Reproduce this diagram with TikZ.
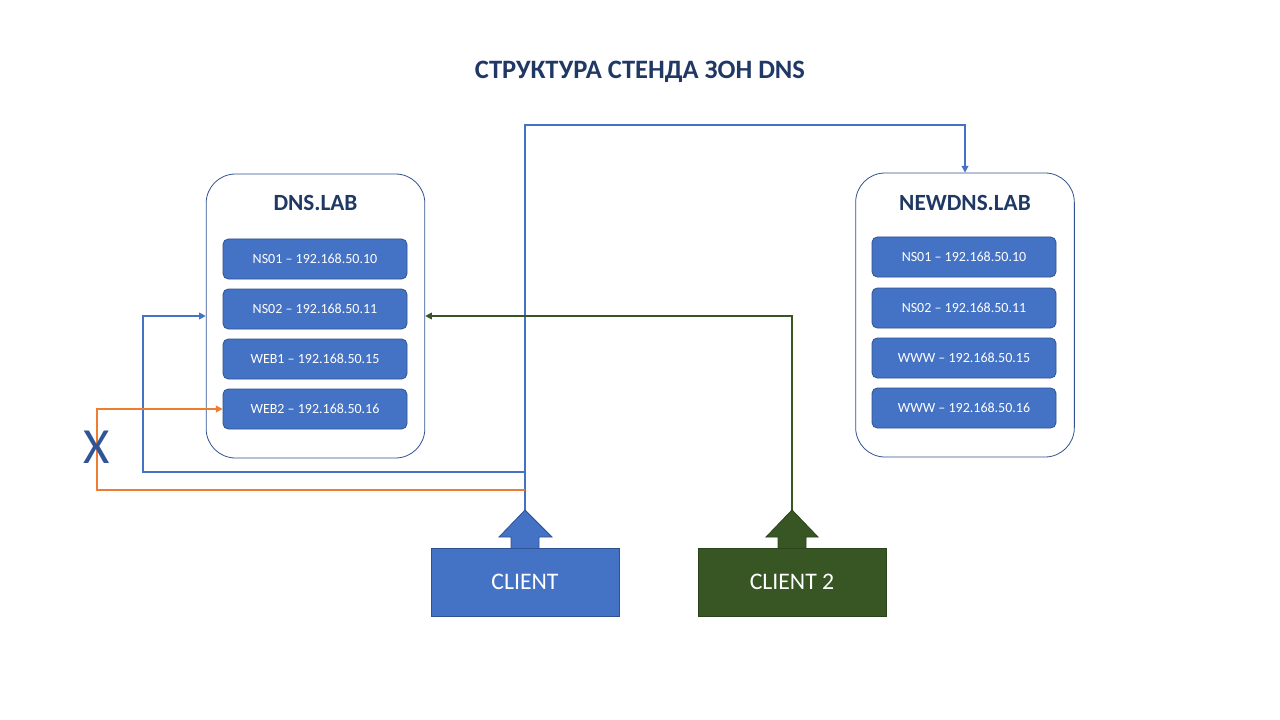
\documentclass[tikz,border=0pt]{standalone}
\usepackage{fontspec}
\setmainfont{Carlito}
\usetikzlibrary{arrows.meta,positioning}
\definecolor{navy}{HTML}{1F3864}
\definecolor{recfill}{HTML}{4472C4}
\definecolor{recline}{HTML}{2F528F}
\definecolor{grfill}{HTML}{375623}
\definecolor{grline}{HTML}{2A431B}
\definecolor{orline}{HTML}{ED7D31}
\definecolor{xblue}{HTML}{2F5597}

\begin{document}
\begin{tikzpicture}[x=0.75pt,y=-0.75pt,
  zone/.style={draw=recline, fill=white, line width=0.6pt, rounded corners=22pt,
    minimum width=164pt, minimum height=213pt},
  zonetitle/.style={text=navy, font=\fontsize{17.4}{20}\selectfont\bfseries},
  rec/.style={draw=recline, fill=recfill, line width=0.6pt, rounded corners=4pt,
    minimum width=138pt, minimum height=30pt, text=white,
    font=\fontsize{10.5}{12}\selectfont},
  client/.style={draw=recline, fill=recfill, line width=0.6pt,
    minimum width=141pt, minimum height=51pt, text=white,
    font=\fontsize{17.8}{20}\selectfont},
  link/.style={line width=1.1pt, -{Triangle[length=5pt,width=5pt]}}]
\useasboundingbox (0,0) rectangle (1280,720);
\node[text=navy, font=\fontsize{19.9}{24}\selectfont\bfseries] (title) at (640,72) {СТРУКТУРА СТЕНДА ЗОН DNS};
% zone dns.lab
\node[zone] (dns) at (315.5,316) {};
\node[zonetitle] (dnst) at (315.5,203) {DNS.LAB};
\node[rec] (ns1) at (315,259) {NS01 – 192.168.50.10};
\node[rec] (ns2) at (315,309) {NS02 – 192.168.50.11};
\node[rec] (web1) at (315,359) {WEB1 – 192.168.50.15};
\node[rec] (web2) at (315,409) {WEB2 – 192.168.50.16};
% zone newdns.lab
\node[zone] (newdns) at (965,315) {};
\node[zonetitle] (newdnst) at (965,203) {NEWDNS.LAB};
\node[rec] (nns1) at (964,257) {NS01 – 192.168.50.10};
\node[rec] (nns2) at (964,308) {NS02 – 192.168.50.11};
\node[rec] (www1) at (964,358) {WWW – 192.168.50.15};
\node[rec] (www2) at (964,408) {WWW – 192.168.50.16};
% clients
\node[client] (cl1) at (525,582) {CLIENT};
\node[client, fill=grfill, draw=grline] (cl2) at (792,582) {CLIENT 2};
\draw[fill=recfill, draw=recline, line width=0.6pt] (511,548) -- (511,537) -- (499,537) -- (525,510)
  -- (552,537) -- (539,537) -- (539,548);
\draw[fill=grfill, draw=grline, line width=0.6pt] (778,548) -- (778,537) -- (766,537) -- (792,510)
  -- (818,537) -- (806,537) -- (806,548);
\coordinate (tip1) at (525,510);
\coordinate (tip2) at (792,510);
\coordinate (up) at (965,125);
\coordinate (j1) at (525,472);
\coordinate (k1) at (143,316);
\coordinate (j2) at (525,490);
\coordinate (k2) at (97,409);
% links
\draw[link, recfill] (tip1) |- (up) -- (newdns.north);
\draw[link, recfill] (j1) -| (k1) -- (dns.west);
\draw[link, orline] (j2) -| (k2) -- (web2.west);
\draw[link, grfill] (tip2) |- (dns.east);
\node[text=xblue, font=\fontsize{38}{40}\selectfont] (cross) at (97,447) {X};
\end{tikzpicture}
\end{document}
